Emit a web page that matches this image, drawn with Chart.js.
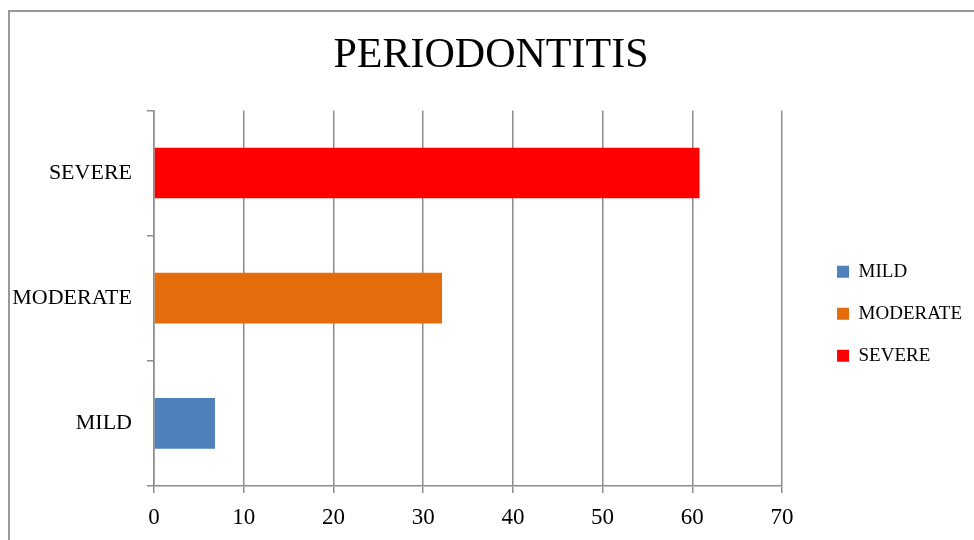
<!DOCTYPE html>
<html>
<head>
<meta charset="utf-8">
<script src="https://cdn.jsdelivr.net/npm/chart.js@4.4.1/dist/chart.umd.min.js"></script>
<style>
  html, body { margin: 0; padding: 0; background: #fff; overflow: hidden; }
  #wrap { position: relative; width: 974px; height: 540px; }
</style>
</head>
<body>
<div id="wrap"><canvas id="chart" width="974" height="540"></canvas></div>
<script>
// data
const categories = ["MILD", "MODERATE", "SEVERE"];
const mildValues = [6.8, null, null];
const moderateValues = [null, 32.1, null];
const severeValues = [null, null, 60.8];
const xMax = 70;
const xStep = 10;

const gridGray = "#8c8c8c";
const serif = "'Liberation Serif', 'DejaVu Serif', serif";

// outer frame of the chart object
const framePlugin = {
  id: "frame",
  beforeDraw(chart) {
    const ctx = chart.ctx;
    ctx.save();
    ctx.strokeStyle = "#999";
    ctx.lineWidth = 2;
    ctx.strokeRect(9, 11, 2000, 2000);
    ctx.restore();
  },
};

document.addEventListener("DOMContentLoaded", function () {
  const el = document.getElementById("chart");

  new Chart(el, {
    type: "bar",
    data: {
      labels: categories,
      datasets: [
        { label: "MILD", data: mildValues, backgroundColor: "#4f81bd" },
        { label: "MODERATE", data: moderateValues, backgroundColor: "#e46c0a" },
        { label: "SEVERE", data: severeValues, backgroundColor: "#ff0000" },
      ],
    },
    options: {
      indexAxis: "y",
      responsive: false,
      animation: false,
      grouped: false,
      categoryPercentage: 0.5,
      barPercentage: 0.81,
      layout: { padding: { left: 10, top: 10, right: 2, bottom: 0 } },
      plugins: {
        title: {
          display: true,
          text: "PERIODONTITIS",
          color: "#000",
          font: { family: serif, size: 42, weight: "normal" },
          padding: { top: 21, bottom: 29 },
        },
        legend: {
          position: "right",
          fullSize: false,
          title: { display: true, text: " ", font: { size: 10 }, padding: { top: 19, bottom: 0 } },
          labels: {
            boxWidth: 12,
            boxHeight: 12,
            padding: 23,
            color: "#000",
            font: { family: serif, size: 19 },
          },
        },
        tooltip: { enabled: false },
      },
      scales: {
        x: {
          min: 0,
          max: xMax,
          ticks: {
            stepSize: xStep,
            color: "#000",
            padding: 11,
            font: { family: serif, size: 23 },
          },
          grid: { color: gridGray, lineWidth: 1.5, tickLength: 7 },
          border: { color: gridGray, width: 1.5 },
          afterFit(s) { s.height = 54; },
        },
        y: {
          reverse: true,
          ticks: {
            color: "#000",
            padding: 15,
            font: { family: serif, size: 22 },
          },
          grid: {
            offset: true,
            drawOnChartArea: false,
            color: gridGray,
            lineWidth: 1.5,
            tickLength: 7,
          },
          border: { color: gridGray, width: 1.5 },
          afterFit(s) { s.width = 144; },
        },
        // empty spacer between plot and legend
        gap: {
          type: "category",
          axis: "y",
          position: "right",
          labels: categories,
          ticks: { display: false },
          grid: { display: false, drawTicks: false },
          border: { display: false },
          afterFit(s) { s.width = 32; },
        },
      },
    },
    plugins: [framePlugin],
  });
});
</script>
</body>
</html>
